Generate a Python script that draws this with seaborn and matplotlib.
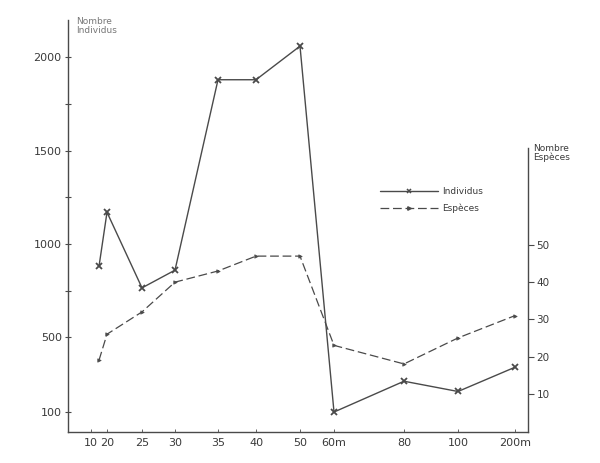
import numpy as np
import matplotlib
matplotlib.use("Agg")
import matplotlib.pyplot as plt
import seaborn as sns
from matplotlib.lines import Line2D

depth = [15, 20, 25, 30, 35, 40, 50, 60, 80, 100, 200]
individus = [880, 1170, 765, 860, 1880, 1880, 2060, 100, 265, 210, 340]
especes = [19, 26, 32, 40, 43, 47, 47, 23, 18, 25, 31]
depth_ticks = [10, 20, 25, 30, 35, 40, 50, 60, 80, 100, 200]
depth_tick_labels = ["10", "20", "25", "30", "35", "40", "50", "60m", "80", "100", "200m"]
ind_ticks = [100, 500, 1000, 1500, 2000]
ind_minor = [750, 1250, 1750]
esp_ticks = [10, 20, 30, 40, 50]

# hand-drawn, uneven depth axis (layout mapping)
_D = [0, 10, 20, 25, 30, 35, 40, 50, 60, 80, 100, 200, 220]
_P = [0, 23, 39, 74, 107, 150, 188, 232, 266, 336, 390, 447, 460]
fwd = lambda x: np.interp(x, _D, _P)
inv = lambda p: np.interp(p, _P, _D)

sns.set_style("white")
plt.rcParams['font.family'] = ['DejaVu Sans']
ink = "#4a4a4a"
txt = "#3a3a3a"

fig = plt.figure(figsize=(6, 4.63), dpi=100)
ax = fig.add_axes([68/600, 1-432/463, 460/600, 412/463])
ax.set_xscale('function', functions=(fwd, inv))
ax.set_xlim(0, 220)
ax.set_ylim(-7, 2200)

sns.lineplot(x=depth, y=individus, ax=ax, color=ink, lw=1.0, marker='x',
             markersize=4, markeredgewidth=1.3, markeredgecolor=ink)

ax2 = ax.twinx()
ax2.set_ylim(-0.3, 110.5)
sns.lineplot(x=depth, y=especes, ax=ax2, color=ink, lw=0.9, linestyle=(0, (7, 3)),
             marker='>', markersize=2.5, markeredgewidth=0.5, markeredgecolor=ink)
ax.set_xlim(0, 220)

for a in (ax, ax2):
    a.set_xlabel("")
    a.set_ylabel("")
    a.spines['top'].set_visible(False)
ax.spines['right'].set_visible(False)
for s in ('left', 'bottom', 'top'):
    ax2.spines[s].set_visible(False)
for s in ('left', 'bottom'):
    ax.spines[s].set_color(ink)
    ax.spines[s].set_linewidth(1.0)
ax2.spines['right'].set_color(ink)
ax2.spines['right'].set_linewidth(1.0)
ax2.spines['right'].set_bounds(-0.3, 76)

ax.set_xticks(depth_ticks)
ax.set_xticklabels(depth_tick_labels)
ax.set_yticks(ind_ticks)
ax.set_yticks(ind_minor, minor=True)
ax.tick_params(axis='y', which='both', left=True, direction='inout', length=5,
               width=0.8, color=ink, labelsize=8, labelcolor=txt, pad=2)
ax.tick_params(axis='x', bottom=True, direction='in', length=2, width=0.6,
               color=ink, labelsize=8, labelcolor=txt, pad=4)
ax2.set_yticks(esp_ticks)
ax2.tick_params(axis='y', right=True, direction='out', length=4, width=0.8,
                color=ink, labelsize=7.5, labelcolor=txt, pad=2)

fig.text(76/600, 1-26/463, "Nombre\nIndividus", fontsize=6.5, color="#777",
         va='center', ha='left', linespacing=1.0)
fig.text(533/600, 1-153/463, "Nombre\nEspèces", fontsize=6.5, color=txt,
         va='center', ha='left', linespacing=1.0)

handles = [Line2D([], [], color=ink, lw=1.0, marker='x', markersize=3,
                  markeredgewidth=1.1, markevery=[0, -1], label='Individus'),
           Line2D([], [], color=ink, lw=0.9, linestyle=(0, (7, 3)), marker='>',
                  markersize=2.5, markevery=[0, -1], label='Espèces')]
ax.legend(handles=handles, loc='upper left', bbox_to_anchor=(0.66, 0.615),
          frameon=False, fontsize=6.5, handlelength=6.5, handletextpad=0.4,
          labelspacing=0.9, labelcolor=txt)

fig.savefig("out.png", dpi=100, facecolor='white')
